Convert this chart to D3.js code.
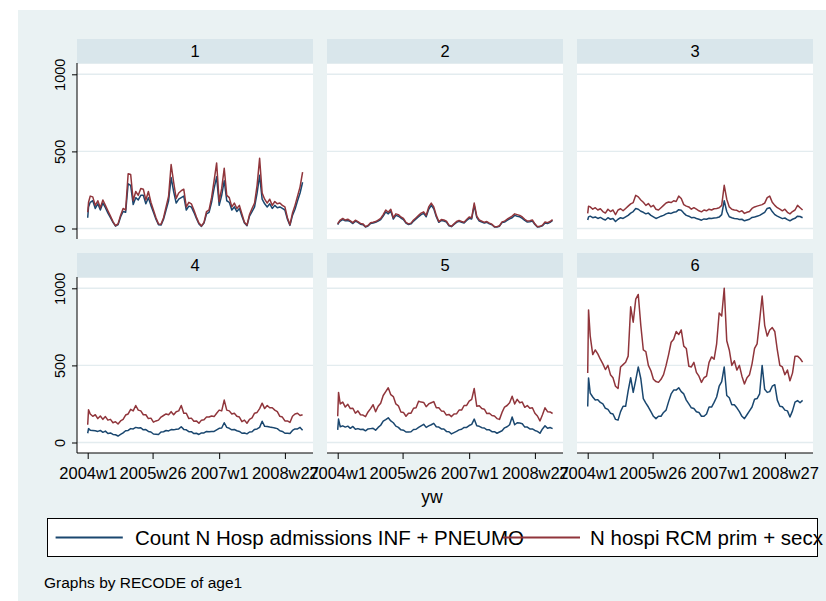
<!DOCTYPE html>
<html>
<head>
<meta charset="utf-8">
<script src="https://cdn.jsdelivr.net/npm/d3@7"></script>
<style>
  body { margin: 0; background: #ffffff; }
  svg { display: block; }
  text { font-family: "Liberation Sans", Arial, Helvetica, sans-serif; fill: #000; }
</style>
</head>
<body>
<svg id="chart" width="826" height="601"></svg>
<script>
// Age groups (RECODE of age1)
const ageGroups = ["1", "2", "3", "4", "5", "6"];

// Weekly time axis: weeks elapsed since 2004w1 (Stata %tw, 52 weeks per year)
const weeks = [0, 1].concat(d3.range(3, 256, 3));
const tickWeeks = [0, 77, 156, 234];
const tickLabels = ["2004w1", "2005w26", "2007w1", "2008w27"];
const yTicks = [0, 500, 1000];
const seriesLabels = ["Count N Hosp admissions INF + PNEUMO", "N hospi RCM prim + secx"];
const xTitle = "yw";
const note = "Graphs by RECODE of age1";

// Count N Hosp admissions INF + PNEUMO, by age group
const infPneumo1 = [70,140,170,180,130,160,120,165,135,100,
  70,40,15,25,75,110,105,290,280,155,
  200,185,215,215,160,200,150,105,60,25,
  22,60,120,180,330,240,165,190,200,210,
  120,145,140,105,65,30,14,35,95,105,
  170,260,335,150,215,310,180,170,120,140,
  110,130,80,35,18,80,110,140,230,345,
  190,160,140,160,130,150,135,140,130,120,
  60,20,85,125,180,230,300];
const infPneumo2 = [25,35,48,58,50,52,45,32,48,40,
  28,25,10,16,32,35,40,48,58,80,
  108,95,112,62,85,80,68,58,35,26,
  30,48,62,76,90,98,76,125,150,128,
  76,40,52,48,42,18,12,26,40,46,
  40,35,52,66,62,150,72,48,42,35,
  40,30,24,10,10,15,38,42,52,62,
  70,85,80,76,66,52,42,44,48,26,
  10,12,18,36,32,40,52];
const infPneumo3 = [55,75,80,70,75,65,72,62,55,70,
  60,65,45,60,70,65,75,85,100,110,
  130,125,112,105,95,100,85,75,65,72,
  80,85,95,100,98,105,108,122,118,100,
  85,80,70,72,65,60,54,62,60,66,
  65,68,70,74,90,180,110,76,70,65,
  64,58,60,50,55,60,72,75,80,85,
  95,105,130,135,110,90,80,72,64,68,
  58,50,60,66,80,78,70];
const infPneumo4 = [60,90,80,78,76,72,78,66,74,58,
  62,52,50,42,52,62,76,78,90,88,
  98,94,96,82,84,72,68,55,54,52,
  68,70,78,75,84,82,86,88,102,85,
  82,70,70,58,60,52,62,62,72,70,
  72,72,82,92,94,128,98,92,82,84,
  76,72,60,62,56,68,70,85,88,98,
  138,105,104,100,98,94,90,76,72,60,
  60,58,78,88,88,98,80];
const infPneumo5 = [82,152,102,108,100,106,92,104,86,90,
  84,86,76,88,90,92,80,98,112,138,
  148,160,140,128,106,98,82,80,68,68,
  70,84,86,98,108,118,98,108,115,124,
  102,100,88,88,72,70,56,64,72,82,
  86,98,98,110,118,152,108,105,96,94,
  82,82,70,70,60,68,76,95,102,115,
  165,115,128,126,122,100,100,88,88,78,
  72,60,88,108,92,97,90];
const infPneumo6 = [234,419,320,295,275,278,260,250,222,215,
  190,185,150,145,200,235,235,335,420,325,
  405,490,415,285,255,230,200,170,155,170,
  170,195,210,265,315,340,340,355,330,315,
  275,250,225,220,200,195,170,170,185,230,
  230,260,295,365,395,490,305,290,245,245,
  225,200,170,155,180,205,230,280,285,315,
  500,345,325,330,365,375,275,235,232,210,
  205,165,205,262,272,258,273];

// N hospi RCM prim + secx, by age group
const rcm1 = [105,170,210,205,150,180,135,185,150,115,
  80,45,18,30,85,130,120,355,350,180,
  240,215,260,255,185,240,170,120,70,30,
  28,70,140,210,415,300,195,230,245,255,
  140,170,160,120,75,35,17,40,110,120,
  200,310,425,175,260,390,215,200,140,165,
  130,150,95,40,22,90,130,165,280,455,
  230,190,165,190,150,175,160,165,150,140,
  70,25,100,150,210,270,365];
const rcm2 = [30,40,55,65,55,60,50,38,54,45,
  33,30,12,20,38,40,45,55,65,90,
  120,105,125,70,95,90,75,65,40,30,
  35,55,70,85,100,108,85,140,165,140,
  85,45,58,55,48,22,15,30,45,52,
  45,40,58,75,70,165,80,55,48,40,
  45,35,28,12,12,18,43,48,60,70,
  80,95,90,85,75,60,48,50,55,30,
  12,14,22,42,38,45,58];
const rcm3 = [98,145,140,125,135,120,128,110,100,125,
  110,120,90,120,128,115,130,145,160,168,
  215,205,185,170,150,162,140,150,125,120,
  135,150,165,172,168,180,175,210,195,155,
  145,140,125,135,125,115,108,120,115,125,
  120,128,130,135,150,280,190,140,125,120,
  118,108,115,98,105,110,130,140,145,150,
  155,165,200,210,170,150,135,125,115,125,
  105,95,110,120,150,135,120];
const rcm4 = [115,213,185,170,180,155,172,150,168,145,
  150,128,135,120,140,150,178,185,215,205,
  240,210,205,180,180,155,158,132,140,145,
  165,175,185,180,200,180,200,205,240,190,
  190,155,158,138,140,125,145,148,165,165,
  172,168,190,210,205,275,210,205,185,190,
  170,165,135,145,125,150,160,190,195,220,
  255,220,240,225,225,210,200,170,165,140,
  140,130,170,185,190,175,180];
const rcm5 = [170,325,250,262,230,248,220,222,190,205,
  180,178,168,198,220,245,200,235,255,305,
  330,355,310,298,250,238,198,195,170,190,
  190,222,225,268,262,260,232,250,258,265,
  225,225,205,202,178,182,168,185,186,210,
  210,240,240,268,280,350,235,238,220,216,
  188,190,175,172,155,150,195,230,240,258,
  300,250,280,258,262,228,240,222,225,190,
  172,140,180,225,200,198,188];
const rcm6 = [451,860,690,570,600,575,540,510,473,500,
  440,420,365,350,490,505,520,560,880,780,
  930,960,760,600,590,500,465,410,395,390,
  410,440,500,570,650,670,720,700,730,625,
  610,495,490,520,455,430,390,420,430,520,
  555,540,640,840,820,1000,660,600,500,530,
  470,500,430,380,420,440,510,610,640,790,
  950,760,690,730,745,720,600,500,490,440,
  470,400,450,560,560,545,521];

const infByAge = [infPneumo1, infPneumo2, infPneumo3, infPneumo4, infPneumo5, infPneumo6];
const rcmByAge = [rcm1, rcm2, rcm3, rcm4, rcm5, rcm6];

// ---- layout ----
const colors = { bg: "#eaf2f3", strip: "#d9e6eb", grid: "#e3ecef", inf: "#1a476f", rcm: "#90353b" };
const panelW = 236, stripH = 24, plotH = 176;
const colStep = 250, rowStep = 214;
const originX = 77, originY = 39;

const svg = d3.select("#chart");
svg.append("rect").attr("x", 18).attr("y", 10).attr("width", 808).attr("height", 591).attr("fill", colors.bg);

const x = d3.scaleLinear().domain([0, 234]).range([10.7, 207.9]);
const y = d3.scaleLinear().domain([0, 1000]).range([189.5, 35.3]);

const line = d3.line()
  .x((d, i) => x(weeks[i]))
  .y(d => y(d));

ageGroups.forEach((label, k) => {
  const col = k % 3, row = Math.floor(k / 3);
  const g = svg.append("g").attr("transform", `translate(${originX + col * colStep},${originY + row * rowStep})`);

  // strip label
  g.append("rect").attr("width", panelW).attr("height", stripH).attr("fill", colors.strip);
  g.append("text").attr("x", panelW / 2).attr("y", 18).attr("text-anchor", "middle")
    .attr("font-size", 16.5).text(label);

  // plot region
  g.append("rect").attr("y", stripH).attr("width", panelW).attr("height", plotH).attr("fill", "#fff");
  g.append("line").attr("x1", 0).attr("x2", panelW).attr("y1", stripH + 0.5).attr("y2", stripH + 0.5)
    .attr("stroke", colors.grid).attr("stroke-width", 1);

  // gridlines
  g.selectAll("line.grid").data(yTicks).join("line").attr("class", "grid")
    .attr("x1", 0).attr("x2", panelW)
    .attr("y1", d => y(d)).attr("y2", d => y(d))
    .attr("stroke", colors.grid).attr("stroke-width", 1.4);

  // series
  g.append("path").datum(infByAge[k]).attr("d", line)
    .attr("fill", "none").attr("stroke", colors.inf).attr("stroke-width", 1.5).attr("stroke-linejoin", "round");
  g.append("path").datum(rcmByAge[k]).attr("d", line)
    .attr("fill", "none").attr("stroke", colors.rcm).attr("stroke-width", 1.5).attr("stroke-linejoin", "round");

  // y axis on the first column
  if (col === 0) {
    const ya = g.append("g").call(d3.axisLeft(y).tickValues(yTicks).tickSize(5).tickSizeOuter(0).tickFormat(d3.format("d")));
    ya.select(".domain").remove();
    ya.selectAll(".tick line").attr("stroke", "#000");
    ya.selectAll(".tick text")
      .attr("font-size", 14.5).attr("font-family", "Liberation Sans, Arial, sans-serif")
      .attr("text-anchor", "middle").attr("x", null).attr("dy", null)
      .attr("transform", "translate(-12,0) rotate(-90)");
    g.append("line").attr("x1", 0).attr("x2", 0).attr("y1", stripH).attr("y2", stripH + plotH)
      .attr("stroke", "#000").attr("stroke-width", 1);
  }

  // x axis on the bottom row
  if (row === 1) {
    const xa = g.append("g").attr("transform", `translate(0,${stripH + plotH})`)
      .call(d3.axisBottom(x).tickValues(tickWeeks).tickSize(6).tickSizeOuter(0)
        .tickFormat((d, i) => tickLabels[i]));
    xa.select(".domain").remove();
    xa.selectAll(".tick line").attr("stroke", "#000");
    xa.selectAll(".tick text").attr("font-size", 16.5).attr("font-family", "Liberation Sans, Arial, sans-serif")
      .attr("y", 26).attr("dy", null);
    g.append("line").attr("x1", 0).attr("x2", panelW).attr("y1", stripH + plotH).attr("y2", stripH + plotH)
      .attr("stroke", "#000").attr("stroke-width", 1);
  }
});

// axis title
svg.append("text").attr("x", 432).attr("y", 503).attr("text-anchor", "middle").attr("font-size", 17.5).text(xTitle);

// legend
const lg = svg.append("g");
lg.append("rect").attr("x", 47.5).attr("y", 518.5).attr("width", 770).attr("height", 38)
  .attr("fill", "#fff").attr("stroke", "#000").attr("stroke-width", 1);
const legendItems = [
  { label: seriesLabels[0], color: colors.inf, x1: 55.6, x2: 122.8, tx: 135 },
  { label: seriesLabels[1], color: colors.rcm, x1: 503, x2: 580, tx: 590 }
];
legendItems.forEach(it => {
  lg.append("text").attr("x", it.tx).attr("y", 544.5).attr("font-size", 20.5).text(it.label);
});
legendItems.forEach(it => {
  lg.append("line").attr("x1", it.x1).attr("x2", it.x2).attr("y1", 537.5).attr("y2", 537.5)
    .attr("stroke", it.color).attr("stroke-width", 1.8);
});

// note
svg.append("text").attr("x", 44).attr("y", 588).attr("font-size", 15.5).text(note);
</script>
</body>
</html>
